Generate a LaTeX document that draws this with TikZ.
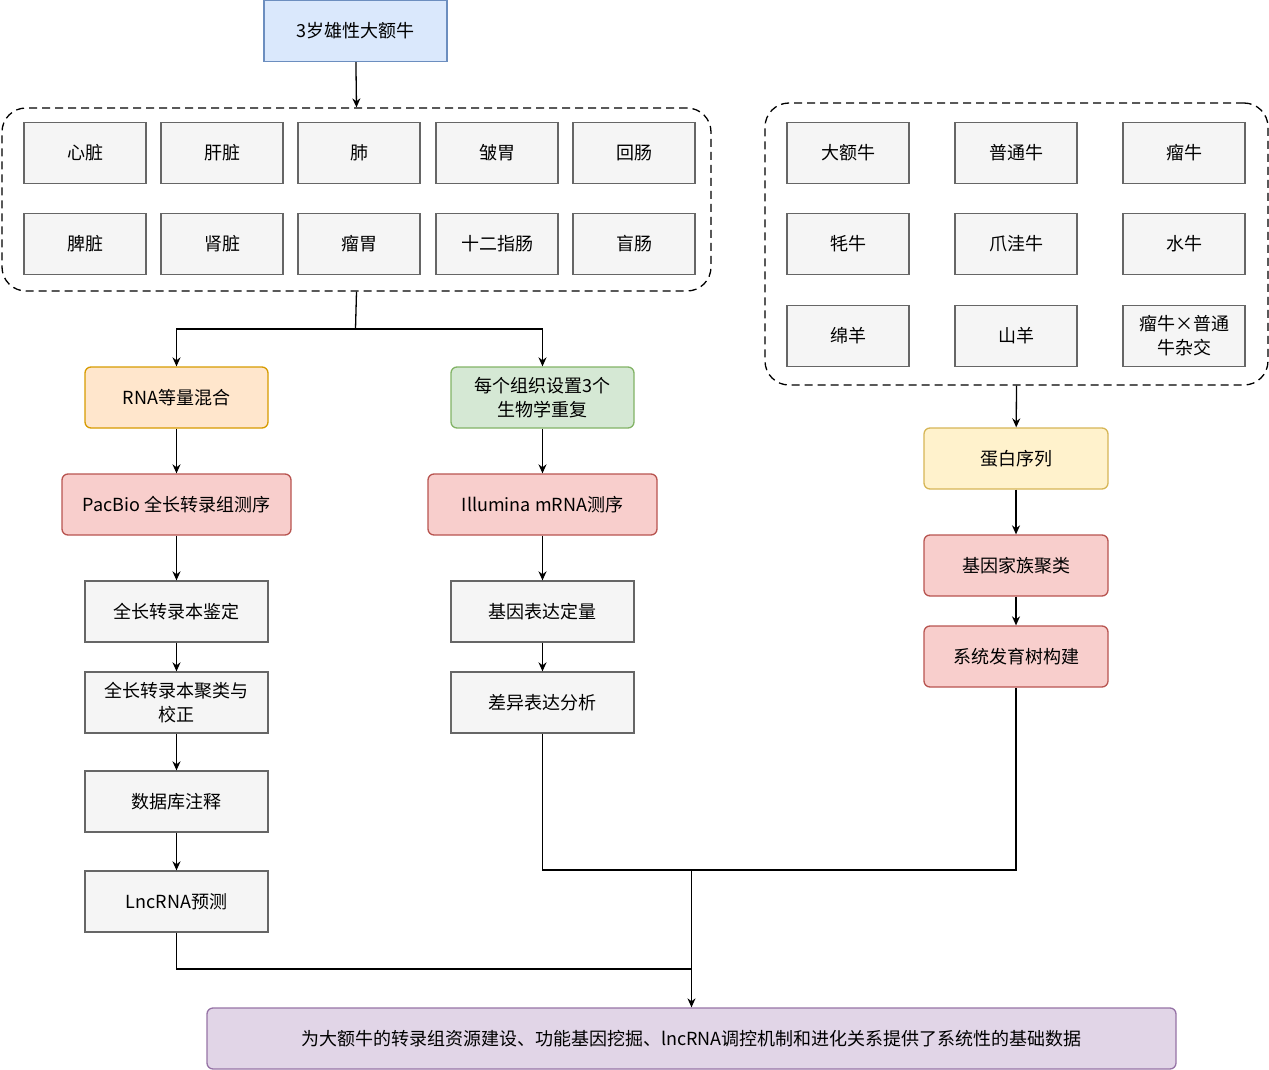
\documentclass[tikz,border=0pt]{standalone}
\usepackage{fontspec}
\setmainfont{Noto Sans CJK SC}
\usetikzlibrary{arrows.meta}
\definecolor{gf}{HTML}{F5F5F5}\definecolor{gd}{HTML}{666666}
\definecolor{bf}{HTML}{DAE8FC}\definecolor{bd}{HTML}{6C8EBF}
\definecolor{of}{HTML}{FFE6CC}\definecolor{od}{HTML}{D79B00}
\definecolor{rf}{HTML}{F8CECC}\definecolor{rd}{HTML}{B85450}
\definecolor{nf}{HTML}{D5E8D4}\definecolor{nd}{HTML}{82B366}
\definecolor{yf}{HTML}{FFF2CC}\definecolor{yd}{HTML}{D6B656}
\definecolor{pf}{HTML}{E1D5E7}\definecolor{pd}{HTML}{9673A6}
\begin{document}
\begin{tikzpicture}[x=1pt,y=-1pt,line width=1.3pt,
 box/.style={draw=#1d,fill=#1f,minimum height=61pt,inner sep=2pt,align=center,font=\fontsize{18}{21}\selectfont},
 rbox/.style={box=#1,rounded corners=6pt},
 org/.style={box=g,minimum width=122pt,text width=118pt},
 dbox/.style={draw,dash pattern=on 8pt off 5pt,rounded corners=24pt},
 arr/.style={-{Stealth[length=9pt,width=8pt]}}]
\useasboundingbox (0,0) rectangle (1269,1070);
\node[box=b,minimum width=183pt] (top) at (355.5,31) {3岁雄性大额牛};
\node[dbox,minimum width=709pt,minimum height=183pt] (L) at (356.5,199.5) {};
\node[dbox,minimum width=503pt,minimum height=282pt] (R) at (1016.5,244) {};
\foreach \n/\x/\y/\t in {a/85/153/心脏,b/222/153/肝脏,c/359/153/肺,d/497/153/皱胃,e/634/153/回肠,
 f/85/244/脾脏,g/222/244/肾脏,h/359/244/瘤胃,i/497/244/十二指肠,j/634/244/盲肠,
 k/848/153/大额牛,l/1016/153/普通牛,m/1184/153/瘤牛,n/848/244/牦牛,o/1016/244/爪洼牛,p/1184/244/水牛,
 q/848/336/绵羊,r/1016/336/山羊}
 \node[org] (\n) at (\x,\y) {\t};
\node[org,font=\fontsize{18}{24}\selectfont] (s) at (1184,336) {瘤牛×普通\\牛杂交};
\node[rbox=o,minimum width=183pt] (rna) at (176.5,397.5) {RNA等量混合};
\node[rbox=r,minimum width=229pt] (pac) at (176.5,504.5) {PacBio 全长转录组测序};
\node[box=g,minimum width=183pt] (fl1) at (176.5,611.5) {全长转录本鉴定};
\node[box=g,minimum width=183pt,text width=179pt,font=\fontsize{18}{24}\selectfont] (fl2) at (176.5,702.5) {全长转录本聚类与\\校正};
\node[box=g,minimum width=183pt] (db) at (176.5,801.5) {数据库注释};
\node[box=g,minimum width=183pt] (lnc) at (176.5,901.5) {LncRNA预测};
\node[rbox=n,minimum width=183pt,font=\fontsize{18}{24}\selectfont] (rep) at (542.5,397.5) {每个组织设置3个\\生物学重复};
\node[rbox=r,minimum width=229pt] (ill) at (542.5,504.5) {Illumina mRNA测序};
\node[box=g,minimum width=183pt] (ge) at (542.5,611.5) {基因表达定量};
\node[box=g,minimum width=183pt] (de) at (542.5,702.5) {差异表达分析};
\node[rbox=y,minimum width=184pt] (pro) at (1016,458.5) {蛋白序列};
\node[rbox=r,minimum width=184pt] (gf) at (1016,565.5) {基因家族聚类};
\node[rbox=r,minimum width=184pt] (tree) at (1016,656.5) {系统发育树构建};
\node[rbox=p,minimum width=969pt] (fin) at (691.5,1038.5) {为大额牛的转录组资源建设、功能基因挖掘、lncRNA调控机制和进化关系提供了系统性的基础数据};
\coordinate (sp) at (355.5,329);
\coordinate (jn) at (691.5,870);
\coordinate (jl) at (691.5,969);
\draw[arr] (top) -- (L.north);
\draw (L.south) -- (sp);
\draw[arr] (sp) -| (rna);
\draw[arr] (sp) -| (rep);
\draw[arr] (rna)--(pac); \draw[arr] (pac)--(fl1); \draw[arr] (fl1)--(fl2);
\draw[arr] (fl2)--(db); \draw[arr] (db)--(lnc);
\draw[arr] (rep)--(ill); \draw[arr] (ill)--(ge); \draw[arr] (ge)--(de);
\draw[arr] (R.south)--(pro); \draw[arr] (pro)--(gf); \draw[arr] (gf)--(tree);
\draw (de.south) |- (jn) -| (tree.south);
\draw (lnc.south) |- (jl);
\draw[arr] (jn) -- (fin);
\end{tikzpicture}
\end{document}
